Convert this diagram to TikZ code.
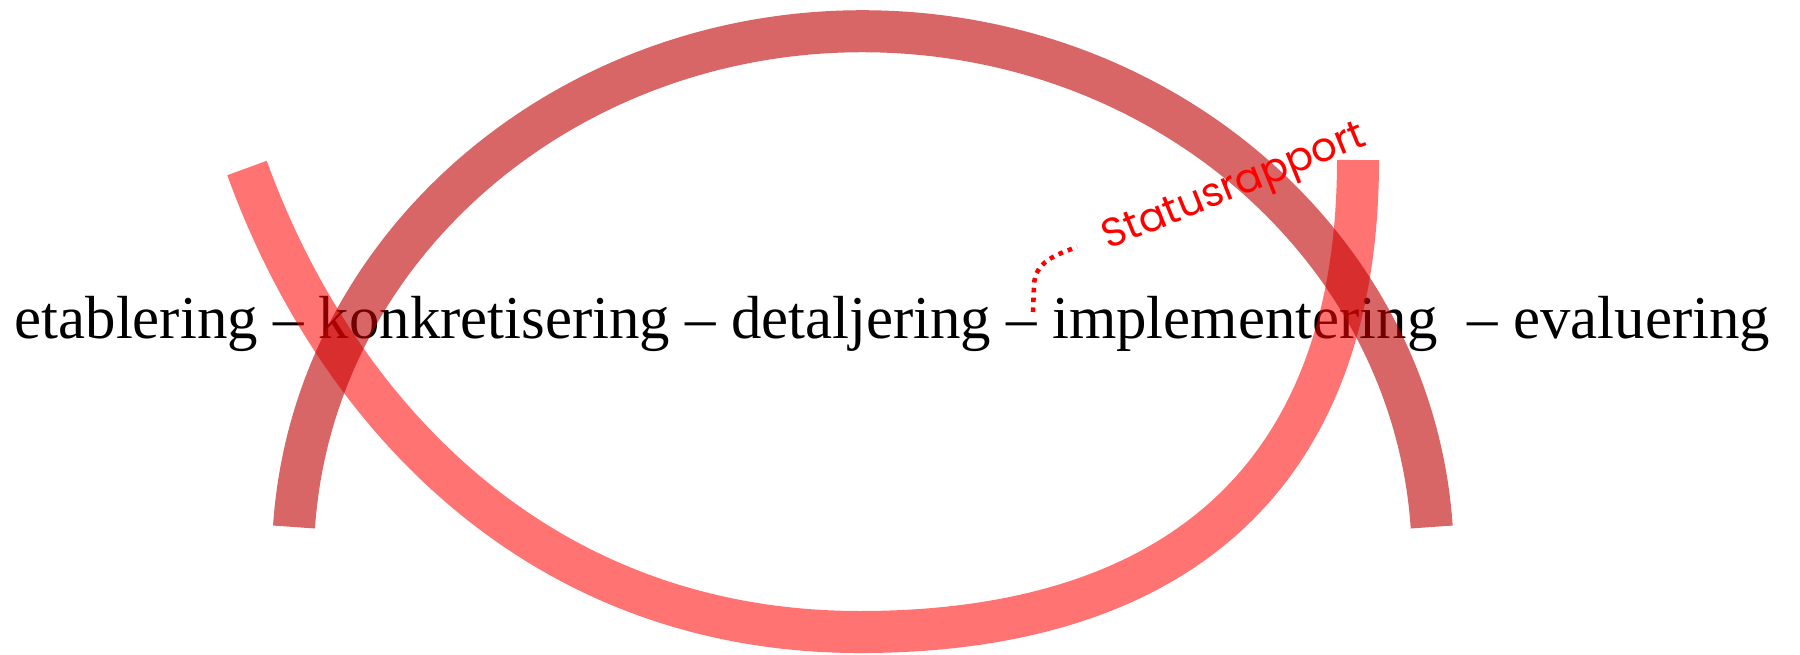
\documentclass[tikz,border=0pt]{standalone}
\usepackage{fontspec}
\setmainfont{Liberation Serif}
\newfontfamily\handfont{Poppins}
\usetikzlibrary{positioning}
\definecolor{arcdark}{RGB}{190,0,0}

\tikzset{
  lightarc/.style={line width=4.2mm, red, opacity=.55},
  darkarc/.style={line width=4.2mm, arcdark, opacity=.6},
  statusline/.style={red, line width=1.3pt, dash pattern=on 1.3pt off 1.5pt}
}

\begin{document}
\begin{tikzpicture}[x=0.01cm, y=-0.01cm, every node/.style={inner sep=0pt}]
        \useasboundingbox (0,0) rectangle (1800,654);

        % Phases
        \node[anchor=base west, font=\fontsize{17.3}{20}\selectfont] (phases) at (14,338)
            {etablering – konkretisering – detaljering – implementering\ \ – evaluering};

        % Lower loop
        \draw[lightarc] (247,168) .. controls (332,403) and (530,632) .. (860,632)
            .. controls (1150,632) and (1358,500) .. (1358,160);

        % Upper loop
        \draw[darkarc] (294,527) arc[start angle=183.6, end angle=356.4, x radius=570, y radius=529];

        % Status report
        \node[anchor=base west, rotate=22, text=red, font=\handfont\fontsize{11.5}{13}\selectfont] (status) at (1108,250) {Statusrapport};
        \coordinate (statfoot) at (1033,312);
        \coordinate (statend) at (1077,247);
        \draw[statusline] (statfoot) -- (1034,285) .. controls (1035,262) and (1055,255) .. (statend);
    \end{tikzpicture}
\end{document}
